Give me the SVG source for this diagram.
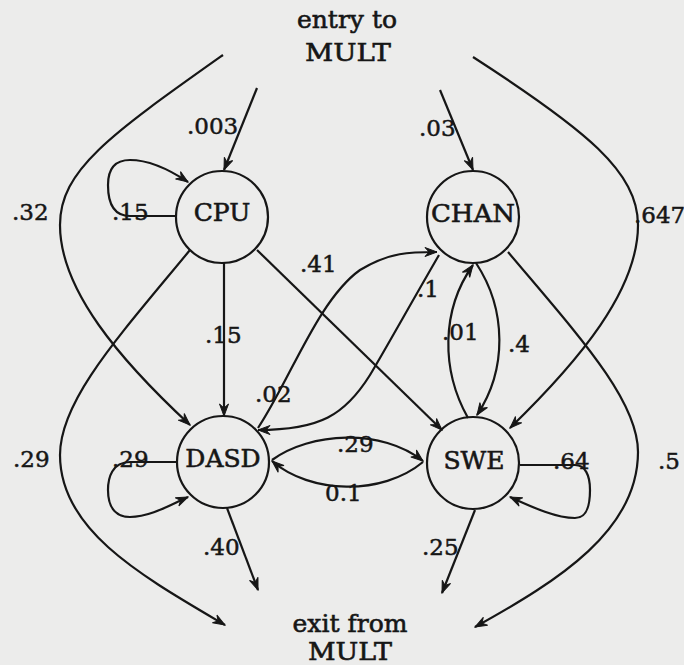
<svg xmlns="http://www.w3.org/2000/svg" width="684" height="665" viewBox="0 0 684 665">
  <defs>
    <marker id="arrow" viewBox="-13 -6 14 12" refX="0" refY="0" markerWidth="14" markerHeight="12" orient="auto" markerUnits="userSpaceOnUse">
      <path d="M0,0 L-12,-4.5 L-8,0 L-12,4.5 Z" fill="#161616" stroke="#161616" stroke-width="1" stroke-linejoin="miter"/>
    </marker>
    <style>
      .bg { fill: #ececeb; }
      .node circle { fill: none; stroke: #161616; stroke-width: 2.2; }
      .node text { font-family: "DejaVu Serif", "Liberation Serif", serif; font-size: 25px; fill: #161616; stroke: #161616; stroke-width: 0.6; text-anchor: middle; }
      .edge { fill: none; stroke: #161616; stroke-width: 2.2; }
      .arr { marker-end: url(#arrow); }
      .lbl { font-family: "DejaVu Serif", "Liberation Serif", serif; font-size: 23px; fill: #161616; stroke: #161616; stroke-width: 0.5; }
      .term { font-family: "DejaVu Serif", "Liberation Serif", serif; font-size: 25px; fill: #161616; stroke: #161616; stroke-width: 0.6; text-anchor: middle; }
    </style>
  </defs>

  <rect class="bg" x="0" y="0" width="684" height="665"/>

  <!-- entry / exit terminals -->
  <g id="entry">
    <text class="term" x="347" y="28">entry to</text>
    <text class="term" x="348" y="61" textLength="86" lengthAdjust="spacingAndGlyphs">MULT</text>
  </g>
  <g id="exit">
    <text class="term" x="350" y="632">exit from</text>
    <text class="term" x="350" y="660" textLength="84" lengthAdjust="spacingAndGlyphs">MULT</text>
  </g>

  <!-- connectors -->
  <g id="connectors">
    <!-- entry -> CPU / CHAN -->
    <path class="edge arr" d="M257,88 L224,170"/>
    <path class="edge arr" d="M440,90 L473,170"/>
    <!-- entry -> DASD (.32) -->
    <path class="edge arr" d="M223,55 C110,135 60,170 60,225 C60,290 120,360 190,425"/>
    <!-- entry -> SWE (.647) -->
    <path class="edge arr" d="M473,57 C586,130 638,172 638,225 C638,290 580,360 510,428"/>
    <!-- CPU -> exit (.29) -->
    <path class="edge arr" d="M190,250 C120,335 60,400 60,455 C60,530 140,575 225,625"/>
    <!-- CHAN -> exit (.5) -->
    <path class="edge arr" d="M508,252 C578,335 638,400 638,452 C638,530 560,580 475,627"/>
    <!-- CPU -> DASD (.15) -->
    <path class="edge arr" d="M224,263 L224,416"/>
    <!-- CPU -> SWE (.41) -->
    <path class="edge arr" d="M257,250 L442,430"/>
    <!-- CHAN -> DASD (.1) -->
    <path class="edge arr" d="M439,255 C410,305 385,350 370,375 C345,415 320,430 258,430"/>
    <!-- DASD -> CHAN (.02) -->
    <path class="edge arr" d="M258,428 C290,380 318,300 360,270 C390,252 410,252 437,252"/>
    <!-- SWE -> CHAN (.01) -->
    <path class="edge arr" d="M468,418 C441,370 441,310 473,265"/>
    <!-- CHAN -> SWE (.4) -->
    <path class="edge arr" d="M476,263 C507,310 507,370 477,415"/>
    <!-- DASD -> SWE (.29) -->
    <path class="edge arr" d="M272,460 C310,432 382,428 423,461"/>
    <!-- SWE -> DASD (0.1) -->
    <path class="edge arr" d="M423,462 C382,496 310,494 272,461"/>
    <!-- self loops -->
    <path class="edge arr" d="M177,216 L130,216 C112,216 108,200 108,185 C108,166 118,160 130,160 C150,160 170,170 188,182"/>
    <path class="edge arr" d="M177,462 L130,462 C112,462 108,478 108,490 C108,510 118,517 130,517 C150,517 170,505 188,497"/>
    <path class="edge arr" d="M520,465 L575,465 C585,465 590,475 590,490 C590,510 585,518 575,518 C555,518 530,506 510,497"/>
    <!-- to exit -->
    <path class="edge arr" d="M227,508 L258,590"/>
    <path class="edge arr" d="M475,510 L442,593"/>
  </g>

  <!-- nodes -->
  <g id="cpu" class="node">
    <circle cx="222" cy="217" r="46"/>
    <text x="222" y="221">CPU</text>
  </g>
  <g id="chan" class="node">
    <circle cx="473" cy="217" r="46"/>
    <text x="473" y="222" textLength="84" lengthAdjust="spacingAndGlyphs">CHAN</text>
  </g>
  <g id="dasd" class="node">
    <circle cx="223" cy="462" r="46"/>
    <text x="223" y="467">DASD</text>
  </g>
  <g id="swe" class="node">
    <circle cx="473" cy="463" r="46"/>
    <text x="474" y="469">SWE</text>
  </g>

  <!-- transition probabilities -->
  <g id="labels">
    <text class="lbl" x="187" y="134">.003</text>
    <text class="lbl" x="12" y="220">.32</text>
    <text class="lbl" x="112" y="220">.15</text>
    <text class="lbl" x="300" y="272">.41</text>
    <text class="lbl" x="205" y="343">.15</text>
    <text class="lbl" x="419" y="136">.03</text>
    <text class="lbl" x="634" y="223">.647</text>
    <text class="lbl" x="417" y="297">.1</text>
    <text class="lbl" x="442" y="340">.01</text>
    <text class="lbl" x="508" y="352">.4</text>
    <text class="lbl" x="255" y="402">.02</text>
    <text class="lbl" x="13" y="467">.29</text>
    <text class="lbl" x="112" y="467">.29</text>
    <text class="lbl" x="337" y="452">.29</text>
    <text class="lbl" x="325" y="501">0.1</text>
    <text class="lbl" x="553" y="469">.64</text>
    <text class="lbl" x="658" y="469">.5</text>
    <text class="lbl" x="203" y="555">.40</text>
    <text class="lbl" x="422" y="555">.25</text>
  </g>
</svg>
